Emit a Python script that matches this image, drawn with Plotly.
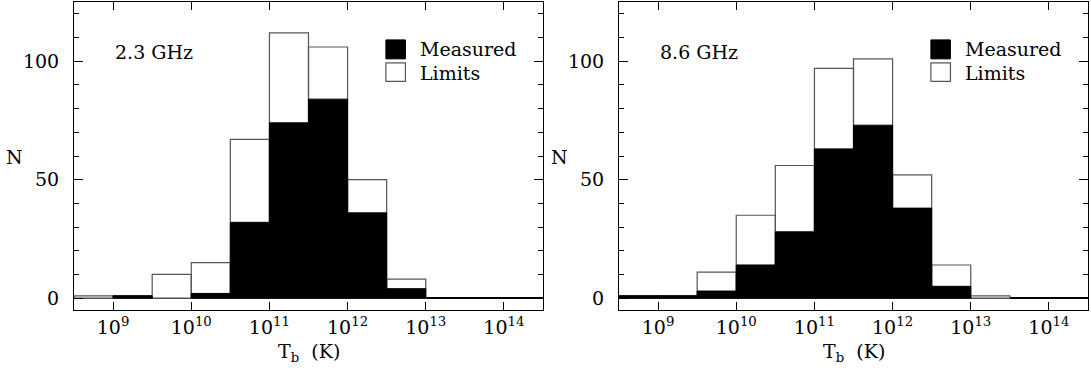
import plotly.graph_objects as go

# log10 bin edges of brightness temperature
bin_edges = [8.5, 9.0, 9.5, 10.0, 10.5, 11.0, 11.5, 12.0, 12.5, 13.0, 13.5]

# 2.3 GHz
total_s = [1, 1, 10, 15, 67, 112, 106, 50, 8, 0]
measured_s = [0, 1, 0, 2, 32, 74, 84, 36, 4, 0]
# 8.6 GHz
total_x = [1, 1, 11, 35, 56, 97, 101, 52, 14, 1]
measured_x = [1, 1, 3, 14, 28, 63, 73, 38, 5, 0]

panels = ["2.3 GHz", "8.6 GHz"]
tick_exps = [9, 10, 11, 12, 13, 14]

FONT = "DejaVu Serif"
FS = 19


def boxes(edges, counts):
    xs, ys = [], []
    for i, c in enumerate(counts):
        if c <= 0:
            continue
        x0, x1 = 10 ** edges[i], 10 ** edges[i + 1]
        xs += [x0, x0, x1, x1, x0, None]
        ys += [0, c, c, 0, 0, None]
    return xs, ys


fig = go.Figure()
data = [(total_s, measured_s), (total_x, measured_x)]
for k, (tot, mea) in enumerate(data):
    xa = "x" if k == 0 else "x2"
    ya = "y" if k == 0 else "y2"
    xs, ys = boxes(bin_edges, tot)
    fig.add_trace(go.Scatter(x=xs, y=ys, mode="lines", fill="toself",
                             fillcolor="white", line=dict(color="#555555", width=1.2),
                             xaxis=xa, yaxis=ya, showlegend=False, hoverinfo="skip"))
    xs, ys = boxes(bin_edges, mea)
    fig.add_trace(go.Scatter(x=xs, y=ys, mode="lines", fill="toself",
                             fillcolor="black", line=dict(color="black", width=1),
                             xaxis=xa, yaxis=ya, showlegend=False, hoverinfo="skip"))

xdomains = [[74 / 1091, 543 / 1091], [619 / 1091, 1088 / 1091]]
ydomain = [1 - 310 / 374, 1 - 2 / 374]

common_x = dict(type="log", range=[8.5, 14.5], showline=True, mirror="allticks",
                linecolor="black", linewidth=1, ticks="inside", ticklen=8,
                tickcolor="black", tickwidth=1, showgrid=False, zeroline=False,
                tickvals=[10 ** e for e in tick_exps],
                ticktext=["10<sup>%d</sup>" % e for e in tick_exps],
                tickfont=dict(family=FONT, size=FS, color="black"))
common_y = dict(range=[-5, 125], showline=True, mirror="allticks", linecolor="black",
                linewidth=1, ticks="inside", ticklen=9, tickcolor="black", tickwidth=1,
                tickvals=[0, 50, 100], showgrid=False, zeroline=True,
                zerolinecolor="black", zerolinewidth=1.5, ticklabelstandoff=10,
                minor=dict(tickvals=[10, 20, 30, 40, 60, 70, 80, 90, 110, 120],
                           ticks="inside", ticklen=5, tickcolor="black", showgrid=False),
                tickfont=dict(family=FONT, size=FS, color="black"), domain=ydomain)

fig.update_layout(
    width=1091, height=374, margin=dict(l=0, r=0, t=0, b=0),
    paper_bgcolor="white", plot_bgcolor="white", showlegend=False,
    xaxis=dict(common_x, domain=xdomains[0], anchor="y"),
    yaxis=dict(common_y, anchor="x"),
    xaxis2=dict(common_x, domain=xdomains[1], anchor="y2"),
    yaxis2=dict(common_y, anchor="x2"),
)

ann = []
shapes = []
for k, label in enumerate(panels):
    xr = "x" if k == 0 else "x2"
    yr = "y" if k == 0 else "y2"
    ann.append(dict(x=9.0, y=104, xref=xr, yref=yr, text=label, showarrow=False,
                    xanchor="left", yanchor="middle",
                    font=dict(family=FONT, size=FS, color="black")))
    ann.append(dict(x=12.9, y=105, xref=xr, yref=yr, text="Measured", showarrow=False,
                    xanchor="left", yanchor="middle",
                    font=dict(family=FONT, size=FS, color="black")))
    ann.append(dict(x=12.9, y=95, xref=xr, yref=yr, text="Limits", showarrow=False,
                    xanchor="left", yanchor="middle",
                    font=dict(family=FONT, size=FS, color="black")))
    shapes.append(dict(type="rect", xref=xr, yref=yr, x0=10 ** 12.49, x1=10 ** 12.74,
                       y0=101, y1=109, fillcolor="black", line=dict(color="black", width=1)))
    shapes.append(dict(type="rect", xref=xr, yref=yr, x0=10 ** 12.49, x1=10 ** 12.74,
                       y0=91.5, y1=99.3, fillcolor="white", line=dict(color="#555555", width=1.2)))
    xd = xdomains[k]
    ann.append(dict(x=(xd[0] + xd[1]) / 2, y=1 - 352 / 374, xref="paper", yref="paper",
                    text="T<sub>b</sub>&nbsp; (K)", showarrow=False, xanchor="center",
                    yanchor="middle", font=dict(family=FONT, size=FS, color="black")))
    ann.append(dict(x=(14 if k == 0 else 559) / 1091, y=1 - 157 / 374, xref="paper",
                    yref="paper", text="N", showarrow=False, xanchor="center",
                    yanchor="middle", font=dict(family=FONT, size=FS, color="black")))

fig.update_layout(annotations=ann, shapes=shapes)
fig.write_html("out.html", config={"displayModeBar": False},
               post_script="document.body.style.margin='0';document.body.style.overflow='hidden';")
